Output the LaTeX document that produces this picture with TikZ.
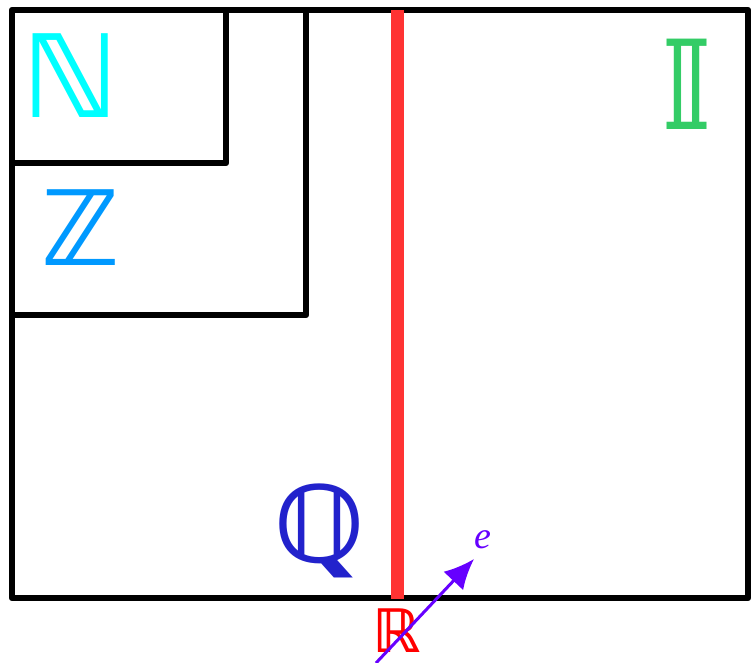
\documentclass[tikz,border=0pt]{standalone}
\usepackage{fontspec}
\newfontfamily\dvsans{DejaVu Sans}
\newfontfamily\lserif{Liberation Serif}
\usetikzlibrary{arrows.meta}
\definecolor{ncol}{HTML}{00FFFF}
\definecolor{zcol}{HTML}{0099FF}
\definecolor{icol}{HTML}{33CC66}
\definecolor{qcol}{HTML}{2222CC}
\definecolor{rcol}{HTML}{FF0000}
\definecolor{linecol}{HTML}{FF3333}
\definecolor{ecol}{HTML}{6600FF}
\tikzset{
  frame/.style={draw=black, line width=6.5pt, line join=round},
  setlabel/.style={inner sep=0pt, anchor=center, font=\dvsans\bfseries},
}
\begin{document}
\begin{tikzpicture}[x=1pt,y=-1pt]
\useasboundingbox (0,0) rectangle (755,662);
\draw[frame] (12,10) rectangle (748,598);
\draw[frame] (12,163) -- (226,163) -- (226,10);
\draw[frame] (12,315) -- (306,315) -- (306,10);
\coordinate (rtop) at (397,10);
\coordinate (rbot) at (397,599);
\draw[linecol, line width=13pt] (rtop) -- (rbot);
\node[setlabel, text=ncol] (N) at (71,76) {\fontsize{115}{115}\selectfont ℕ};
\node[setlabel, text=zcol] (Z) at (81,228) {\fontsize{104}{104}\selectfont ℤ};
\node[setlabel, text=icol] (I) at (687,84) {\fontsize{124}{124}\selectfont 𝕀};
\node[setlabel, text=qcol] (Q) at (320,531) {\fontsize{106}{106}\selectfont ℚ};
\node[setlabel, text=rcol] (R) at (397,631) {\fontsize{60}{60}\selectfont ℝ};
\coordinate (estart) at (376,663);
\coordinate (etip) at (474,559);
\draw[ecol, line width=3pt, -{Latex[length=30pt,width=27pt]}] (estart) -- (etip);
\node[inner sep=0pt, text=ecol, font=\lserif\itshape] (e) at (483,540) {\fontsize{38}{38}\selectfont e};
\end{tikzpicture}
\end{document}
